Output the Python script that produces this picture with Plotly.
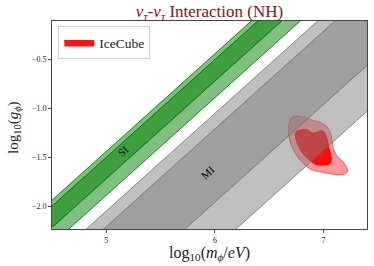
import numpy as np
import plotly.graph_objects as go

# ---- data ----
# diagonal bands: log10(g) = log10(m) + c  (intercepts c)
si_outer = [-6.44, -6.89]
si_inner = [-6.50, -6.72]
mi_outer = [-7.05, -8.43]
mi_inner = [-7.21, -7.96]

# IceCube contours (log10 m, log10 g)
ic_outer_x = [6.717, 6.808, 6.900, 6.992, 7.053, 7.078, 7.090, 7.129, 7.191, 7.221,
              7.191, 7.099, 6.992, 6.900, 6.840, 6.778, 6.732, 6.693, 6.677, 6.686]
ic_outer_y = [-1.080, -1.087, -1.121, -1.154, -1.223, -1.325, -1.410, -1.496, -1.563, -1.639,
              -1.673, -1.676, -1.655, -1.632, -1.591, -1.522, -1.445, -1.343, -1.223, -1.138]
ic_inner_x = [6.748, 6.840, 6.900, 6.992, 7.032, 7.047, 7.069, 7.062, 6.992, 6.931,
              6.870, 6.808, 6.763, 6.742]
ic_inner_y = [-1.240, -1.213, -1.251, -1.230, -1.308, -1.394, -1.496, -1.563, -1.581, -1.574,
              -1.530, -1.461, -1.376, -1.291]

x_range = [4.5, 7.4]
y_range = [-2.235, -0.105]
x_ticks = [5, 6, 7]
x_ticklabels = ["5", "6", "7"]
y_ticks = [-0.5, -1.0, -1.5, -2.0]
y_ticklabels = ["\u22120.5", "\u22121.0", "\u22121.5", "\u22122.0"]

labels = {"SI": (5.153, -1.435), "MI": (5.938, -1.655)}

W, H = 374, 266
margin = dict(l=52, r=7, t=21, b=37)

SERIF = "Liberation Serif, Times New Roman, serif"

fig = go.Figure()

xs = np.array([3.5, 8.5])


def band(c_pair, fill, line):
    c_hi, c_lo = c_pair
    px = np.concatenate([xs, xs[::-1], xs[:1]])
    py = np.concatenate([xs + c_hi, xs[::-1] + c_lo, xs[:1] + c_hi])
    fig.add_trace(go.Scatter(x=px, y=py, mode="lines", fill="toself",
                             fillcolor=fill, line=dict(color=line, width=1),
                             hoverinfo="skip", showlegend=False))


band(si_outer, "rgba(0,128,0,0.5)", "rgba(0,128,0,0.9)")
band(si_inner, "rgba(0,128,0,0.5)", "rgba(0,110,0,0.9)")

fig.add_trace(go.Scatter(x=ic_outer_x + ic_outer_x[:1], y=ic_outer_y + ic_outer_y[:1],
                         mode="lines", fill="toself", fillcolor="rgba(255,0,0,0.4)",
                         line=dict(color="rgba(255,0,0,0.6)", width=1, shape="spline", smoothing=1.0),
                         showlegend=False, hoverinfo="skip"))
fig.add_trace(go.Scatter(x=ic_inner_x + ic_inner_x[:1], y=ic_inner_y + ic_inner_y[:1],
                         mode="lines", fill="toself", fillcolor="rgba(255,0,0,0.92)",
                         line=dict(color="rgba(255,0,0,0.9)", width=1, shape="spline", smoothing=1.0),
                         name="IceCube", showlegend=True, hoverinfo="skip"))

band(mi_outer, "rgba(128,128,128,0.5)", "rgba(100,100,100,0.7)")
band(mi_inner, "rgba(128,128,128,0.5)", "rgba(100,100,100,0.7)")

# text angle along slope 1 in data space
pw = W - margin["l"] - margin["r"]
ph = H - margin["t"] - margin["b"]
sx = pw / (x_range[1] - x_range[0])
sy = ph / (y_range[1] - y_range[0])
ang = -np.degrees(np.arctan2(sy, sx))

for txt, (lx, ly) in labels.items():
    fig.add_annotation(x=lx, y=ly, text=txt, showarrow=False, textangle=ang,
                       font=dict(family=SERIF, size=11, color="black"))

# axis titles as paper annotations
fig.add_annotation(xref="paper", yref="paper", x=0.5, y=-(253 - (H - margin["b"])) / ph,
                   xanchor="center", yanchor="middle", showarrow=False,
                   text="log<sub>10</sub>(<i>m</i><sub><i>\u03d5</i></sub>/<i>eV</i>)",
                   font=dict(family=SERIF, size=16, color="#222"))
fig.add_annotation(xref="paper", yref="paper", x=-(margin["l"] - 14) / pw,
                   y=1 - (128 - margin["t"]) / ph,
                   xanchor="center", yanchor="middle", showarrow=False, textangle=-90,
                   text="log<sub>10</sub>(<i>g</i><sub><i>\u03d5</i></sub>)",
                   font=dict(family=SERIF, size=15, color="#222"))

axis_common = dict(showgrid=False, zeroline=False, showline=True, mirror=True,
                   linecolor="#444", linewidth=1, ticks="outside", ticklen=3,
                   tickwidth=1, tickcolor="#444", automargin=False,
                   tickfont=dict(family=SERIF, size=8, color="#222"))

fig.update_layout(
    width=W, height=H, margin=margin,
    paper_bgcolor="white", plot_bgcolor="white",
    title=dict(text="<i>\u03bd</i><sub><i>\u03c4</i></sub>-<i>\u03bd</i><sub><i>\u03c4</i></sub> Interaction (NH)",
               x=0.5 * (margin["l"] + W - margin["r"]) / W, xanchor="center",
               y=1 - 11 / H, yanchor="middle",
               font=dict(family=SERIF, size=17, color="#8B1010")),
    xaxis=dict(range=x_range, tickvals=x_ticks, ticktext=x_ticklabels, **axis_common),
    yaxis=dict(range=y_range, tickvals=y_ticks, ticktext=y_ticklabels, **axis_common),
    legend=dict(x=0.02, y=0.975, xanchor="left", yanchor="top",
                bgcolor="white", bordercolor="#d0d0d0", borderwidth=1,
                font=dict(family=SERIF, size=13.5, color="#222"),
                itemwidth=30, tracegroupgap=0),
)

fig.write_html("out.html", config={"displayModeBar": False},
               post_script="document.body.style.margin='0';document.body.style.overflow='hidden';")
